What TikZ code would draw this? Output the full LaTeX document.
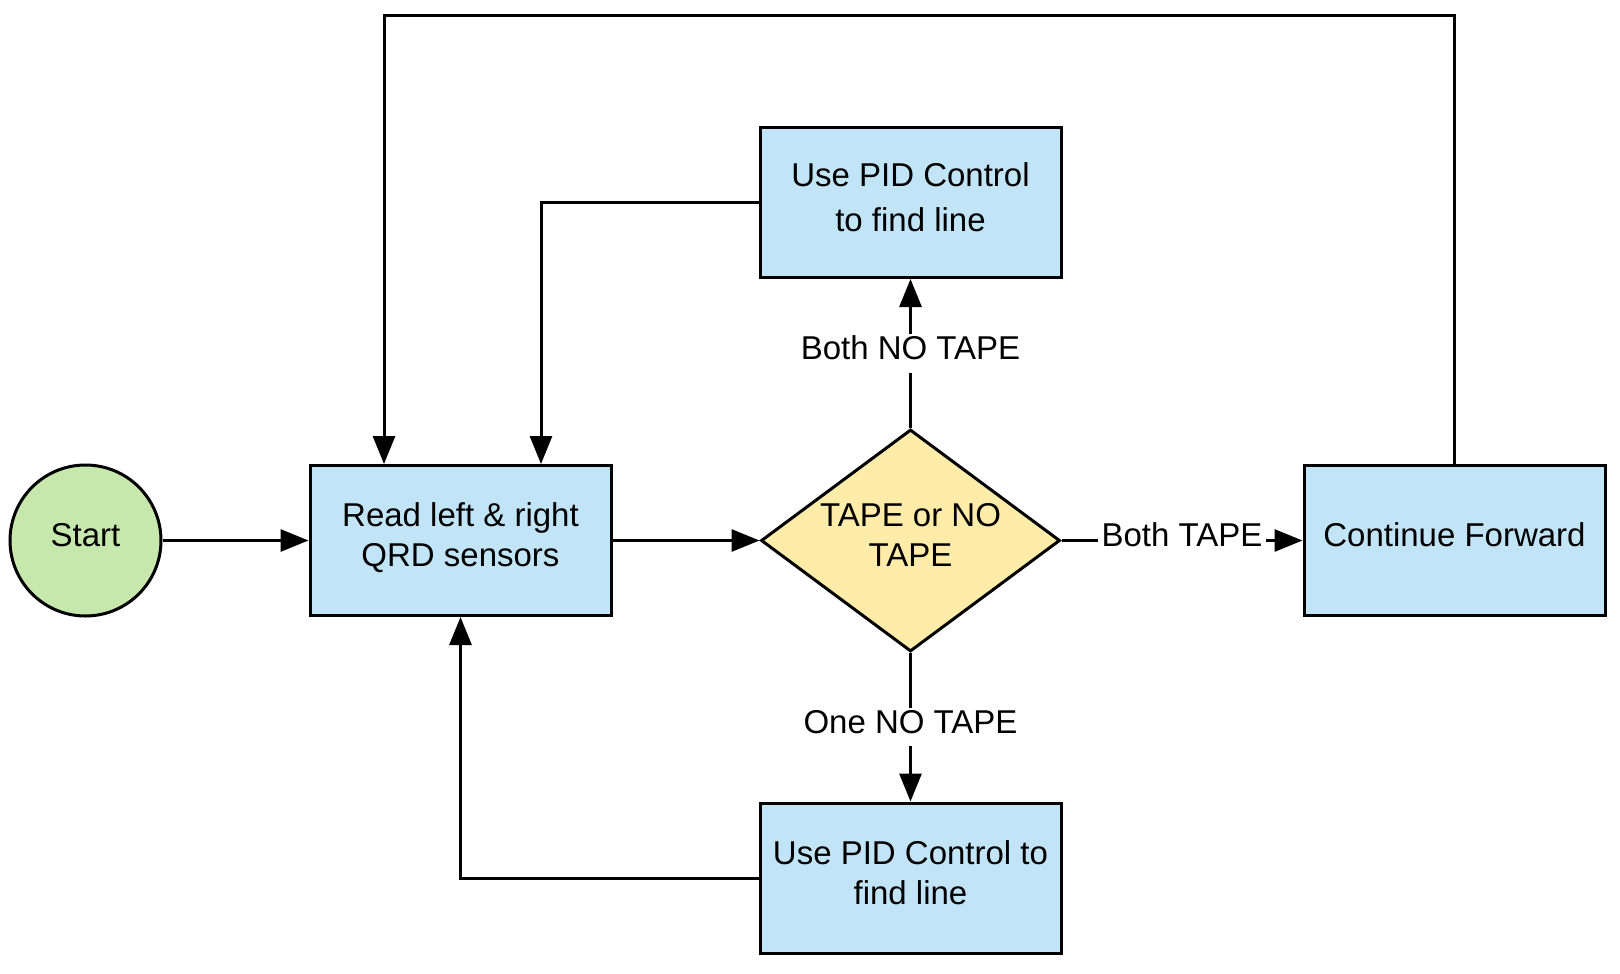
\documentclass[tikz,border=0pt]{standalone}
\usepackage{fontspec}
\setmainfont{Liberation Sans}
\usetikzlibrary{shapes.geometric,arrows.meta}
\definecolor{boxblue}{RGB}{193,228,247}
\definecolor{startgreen}{RGB}{199,232,172}
\definecolor{decyellow}{RGB}{255,236,169}
\newcommand\lowstrut{\rule[-11pt]{0pt}{11pt}}
\begin{document}
\begin{tikzpicture}[x=1pt,y=-1pt,
  every node/.style={font=\fontsize{33}{40}\selectfont},
  procbox/.style={draw=black,line width=3pt,fill=boxblue,minimum width=301pt,minimum height=150pt,inner sep=0pt,align=center},
  startnode/.style={circle,draw=black,line width=3pt,fill=startgreen,minimum size=151pt,inner sep=0pt},
  decision/.style={diamond,draw=black,line width=3pt,fill=decyellow,aspect=1.35,minimum width=299pt,minimum height=222pt,inner sep=0pt,align=center},
  flow/.style={line width=3pt,-{Triangle[length=28pt,width=22pt]}},
  lbl/.style={fill=white,inner xsep=4pt,inner ysep=2pt}
]
\useasboundingbox (0,0) rectangle (1620,974);
\node[startnode] (start) at (85.5,540.5) {Start\lowstrut};
\node[procbox] (read) at (460.5,540.5) {Read left \& right\\QRD sensors\lowstrut};
\node[decision] (dec) at (910.5,540.5) {TAPE or NO\\TAPE\lowstrut};
\node[procbox,font=\fontsize{33}{45}\selectfont] (pidtop) at (910.5,202.5) {Use PID Control\\to find line\lowstrut};
\node[procbox] (pidbot) at (910.5,878) {Use PID Control to\\find line\lowstrut};
\node[procbox] (cont) at (1454.5,540.5) {Continue Forward\lowstrut};
\coordinate (loopY) at (0,15.5);

\draw[flow] (start) -- (read);
\draw[flow] (read) -- (dec);
\draw[flow] (dec) -- node[lbl]{Both TAPE\lowstrut} (cont);
\draw[flow] (dec) -- node[lbl]{Both NO TAPE\lowstrut} (pidtop);
\draw[flow] (dec) -- node[lbl]{One NO TAPE\lowstrut} (pidbot);
\draw[flow] (pidtop.west) -| ([xshift=80.5pt]read.north);
\draw[flow] (pidbot.west) -| (read.south);
\draw[flow] (cont.north) -- (cont.north |- loopY) -| ([xshift=-76.5pt]read.north);
\end{tikzpicture}
\end{document}
